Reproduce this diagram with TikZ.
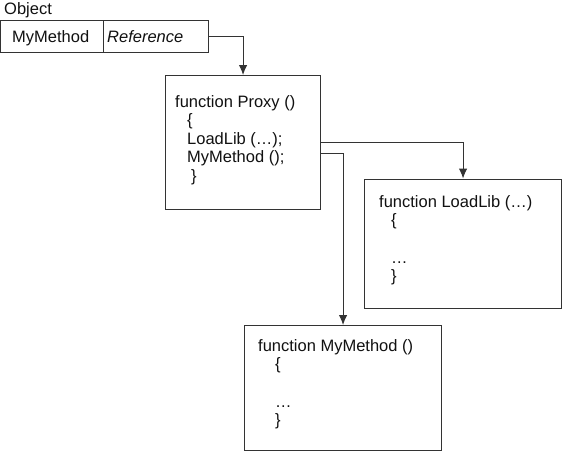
\documentclass[tikz,border=0pt]{standalone}
\usepackage{fontspec}
\setmainfont{Liberation Sans}
\usetikzlibrary{arrows.meta}
\definecolor{linegray}{HTML}{333333}
\definecolor{txt}{HTML}{111111}
\tikzset{
  box/.style={draw=linegray, line width=1.1pt, inner sep=0pt, anchor=north west, fill=white},
  code/.style={anchor=base west, inner sep=0pt, text=txt, font=\fontsize{16.5}{18}\selectfont},
  conn/.style={draw=linegray, line width=1pt, -{Latex[length=10pt,width=8.5pt]}},
}
\begin{document}
\begin{tikzpicture}[x=1pt,y=-1pt]
\useasboundingbox (0,0) rectangle (562,451);
% Object
\node[code] (objlabel) at (4,14) {Object};
\node[box, minimum width=103pt, minimum height=32pt] (cell1) at (0,20) {};
\node[box, minimum width=105pt, minimum height=32pt] (cell2) at (103,20) {};
\node[code] (mymethodtxt) at (12,42) {MyMethod};
\node[code, font=\fontsize{16.5}{18}\selectfont\itshape] (reftxt) at (107,42) {Reference};
% Proxy box
\node[box, minimum width=155pt, minimum height=134pt] (proxy) at (165,75) {};
\node[code] (p1) at (175,107) {function Proxy ()};
\node[code] (p2) at (187,125.5) {\{};
\node[code] (p3) at (187,144) {LoadLib (…);};
\node[code] (p4) at (187,162.5) {MyMethod ();};
\node[code] (p5) at (191,181) {\}};
% LoadLib box
\node[box, minimum width=197pt, minimum height=129pt] (loadlib) at (364,178.5) {};
\node[code] (l1) at (379,207) {function LoadLib (…)};
\node[code] (l2) at (391,225) {\{};
\node[code] (l3) at (391,263) {…};
\node[code] (l4) at (391,281) {\}};
% MyMethod box
\node[box, minimum width=197pt, minimum height=125pt] (mm) at (244,325) {};
\node[code] (m1) at (258,351) {function MyMethod ()};
\node[code] (m2) at (275,369) {\{};
\node[code] (m3) at (275,407) {…};
\node[code] (m4) at (275,425) {\}};
% connectors
\draw[conn] (cell2.east) -| (proxy.north);
\draw[conn] (proxy.east) -| (loadlib.north);
\draw[conn] ([yshift=-11pt]proxy.east) -| (mm.north);
\end{tikzpicture}
\end{document}
